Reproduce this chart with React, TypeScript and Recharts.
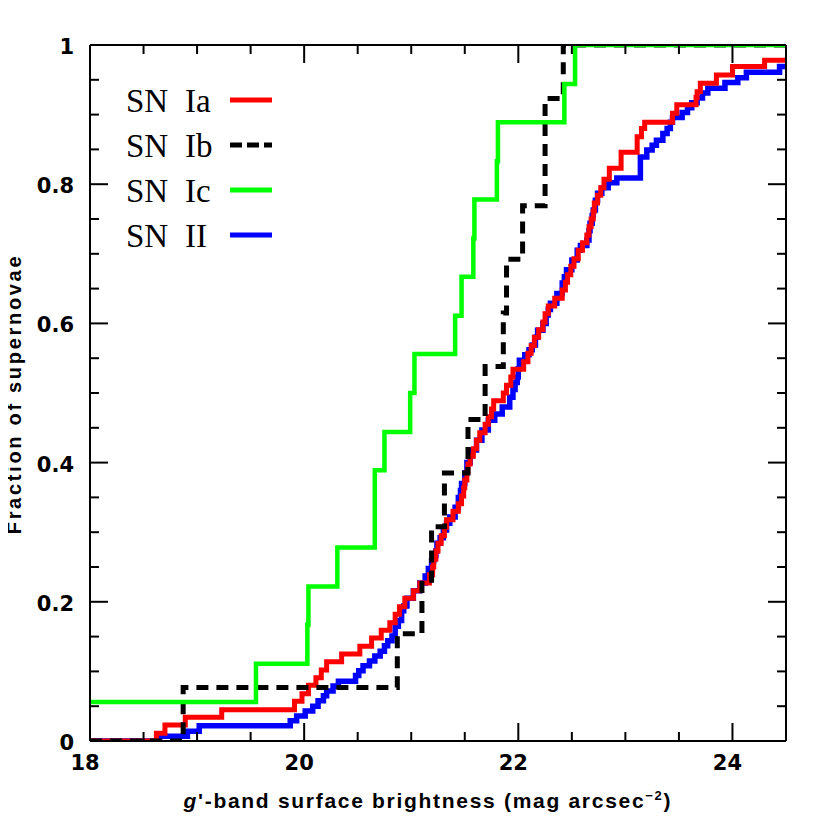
import React from 'react';
import { LineChart, Line, XAxis, YAxis, Legend } from 'recharts';

// cumulative fraction vs g' surface brightness as [mag, fraction]
const snIa = [
  [18.0, 0], [18.62, 0.011], [18.7, 0.023], [18.89, 0.034], [19.23, 0.045], [19.91, 0.057],
  [19.98, 0.068], [20.04, 0.08], [20.11, 0.091], [20.16, 0.102], [20.21, 0.114], [20.35, 0.125],
  [20.52, 0.136], [20.63, 0.148], [20.72, 0.159], [20.8, 0.17], [20.85, 0.182], [20.89, 0.193],
  [20.94, 0.205], [21.02, 0.216], [21.08, 0.227], [21.17, 0.239], [21.2, 0.25], [21.21, 0.261],
  [21.23, 0.273], [21.25, 0.284], [21.28, 0.295], [21.31, 0.307], [21.33, 0.318], [21.39, 0.33],
  [21.44, 0.341], [21.47, 0.352], [21.49, 0.364], [21.5, 0.375], [21.52, 0.386], [21.53, 0.398],
  [21.55, 0.409], [21.58, 0.42], [21.61, 0.432], [21.64, 0.443], [21.69, 0.455], [21.72, 0.466],
  [21.75, 0.477], [21.77, 0.489], [21.86, 0.5], [21.89, 0.511], [21.93, 0.523], [21.95, 0.534],
  [22.05, 0.545], [22.09, 0.557], [22.12, 0.568], [22.15, 0.58], [22.19, 0.591], [22.23, 0.602],
  [22.25, 0.614], [22.28, 0.625], [22.34, 0.636], [22.41, 0.648], [22.44, 0.659], [22.46, 0.67],
  [22.49, 0.682], [22.52, 0.693], [22.56, 0.705], [22.6, 0.716], [22.64, 0.727], [22.66, 0.739],
  [22.68, 0.75], [22.7, 0.761], [22.71, 0.773], [22.74, 0.784], [22.77, 0.795], [22.8, 0.807],
  [22.85, 0.823], [22.96, 0.846], [23.11, 0.868], [23.15, 0.88], [23.18, 0.889], [23.44, 0.902],
  [23.48, 0.914], [23.66, 0.925], [23.67, 0.933], [23.7, 0.945], [23.85, 0.957], [24.0, 0.969],
  [24.3, 0.978], [24.5, 0.978],
];

const snIb = [
  [18.0, 0], [18.87, 0.077], [20.87, 0.154], [21.1, 0.231], [21.19, 0.308], [21.31, 0.385],
  [21.53, 0.462], [21.69, 0.538], [21.86, 0.615], [21.89, 0.692], [22.04, 0.769], [22.25, 0.923],
  [22.42, 1], [24.5, 1],
];

const snIc = [
  [18.0, 0.056], [19.55, 0.111], [20.03, 0.167], [20.04, 0.222], [20.31, 0.278], [20.66, 0.389],
  [20.75, 0.444], [20.99, 0.5], [21.03, 0.556], [21.41, 0.611], [21.47, 0.667], [21.58, 0.722],
  [21.59, 0.778], [21.8, 0.833], [21.81, 0.889], [22.43, 0.944], [22.53, 1], [24.5, 1],
];

const snII = [
  [18.0, 0], [18.65, 0.007], [18.91, 0.014], [19.02, 0.022], [19.87, 0.029], [19.93, 0.036],
  [20.01, 0.043], [20.08, 0.05], [20.13, 0.058], [20.18, 0.065], [20.21, 0.072], [20.27, 0.079],
  [20.32, 0.086], [20.48, 0.094], [20.51, 0.101], [20.55, 0.108], [20.61, 0.115], [20.66, 0.122],
  [20.71, 0.129], [20.75, 0.137], [20.78, 0.144], [20.82, 0.151], [20.85, 0.165], [20.88, 0.173],
  [20.91, 0.187], [20.93, 0.194], [20.96, 0.205], [21.02, 0.216], [21.08, 0.227], [21.13, 0.237],
  [21.16, 0.248], [21.19, 0.259], [21.21, 0.266], [21.23, 0.273], [21.24, 0.284], [21.27, 0.292],
  [21.3, 0.303], [21.33, 0.313], [21.36, 0.322], [21.41, 0.336], [21.44, 0.35], [21.46, 0.36],
  [21.47, 0.37], [21.5, 0.385], [21.52, 0.4], [21.55, 0.41], [21.57, 0.418], [21.61, 0.432],
  [21.66, 0.447], [21.72, 0.461], [21.78, 0.47], [21.85, 0.48], [21.92, 0.494], [21.95, 0.505],
  [21.97, 0.515], [21.99, 0.523], [22.0, 0.535], [22.01, 0.547], [22.06, 0.555], [22.1, 0.562],
  [22.13, 0.569], [22.16, 0.58], [22.18, 0.59], [22.23, 0.6], [22.26, 0.612], [22.28, 0.62],
  [22.3, 0.629], [22.36, 0.643], [22.41, 0.658], [22.43, 0.667], [22.45, 0.677], [22.5, 0.691],
  [22.55, 0.705], [22.58, 0.712], [22.64, 0.72], [22.66, 0.733], [22.67, 0.744], [22.69, 0.755],
  [22.7, 0.763], [22.72, 0.777], [22.74, 0.787], [22.78, 0.795], [22.84, 0.802], [22.92, 0.809],
  [23.14, 0.839], [23.2, 0.849], [23.25, 0.856], [23.29, 0.863], [23.35, 0.873], [23.39, 0.88],
  [23.42, 0.889], [23.44, 0.896], [23.53, 0.903], [23.58, 0.91], [23.62, 0.917], [23.67, 0.924],
  [23.72, 0.931], [23.77, 0.938], [23.93, 0.946], [24.05, 0.953], [24.13, 0.961], [24.44, 0.969],
  [24.5, 0.969],
];

const xTicks = [18, 18.5, 19, 19.5, 20, 20.5, 21, 21.5, 22, 22.5, 23, 23.5, 24, 24.5];
const xLabels = [18, 20, 22, 24];
const yTicks = [
  0, 0.05, 0.1, 0.15, 0.2, 0.25, 0.3, 0.35, 0.4, 0.45, 0.5,
  0.55, 0.6, 0.65, 0.7, 0.75, 0.8, 0.85, 0.9, 0.95, 1,
];
const yLabels = [0, 0.2, 0.4, 0.6, 0.8, 1];

const legendNames = ['Ia', 'Ib', 'Ic', 'II'];
const legendColors = ['#ff0000', '#000000', '#00ff00', '#0000ff'];

const rows = (pts: number[][]) => pts.map(([x, y]) => ({ x, y }));

const tickFont = { fontFamily: 'DejaVu Sans', fontWeight: 700, fontSize: 21 };
const titleFont = { fontFamily: 'Liberation Sans', fontWeight: 700 };

const XTickBottom = ({ x, y, payload }: any) => {
  const major = xLabels.includes(payload.value);
  return (
    <g>
      <line x1={x} x2={x} y1={y} y2={y - (major ? 18 : 9)} stroke="#000" strokeWidth={2} />
      {major && (
        <text x={x - 5} y={y + 29} textAnchor="middle" fill="#000" style={tickFont}>
          {payload.value}
        </text>
      )}
    </g>
  );
};

const XTickTop = ({ x, y, payload }: any) => {
  const major = xLabels.includes(payload.value);
  return <line x1={x} x2={x} y1={y} y2={y + (major ? 18 : 9)} stroke="#000" strokeWidth={2} />;
};

const YTickLeft = ({ x, y, payload }: any) => {
  const major = yLabels.includes(payload.value);
  return (
    <g>
      <line x1={x} x2={x + (major ? 18 : 9)} y1={y} y2={y} stroke="#000" strokeWidth={2} />
      {major && (
        <text x={x - 16} y={y + 9} textAnchor="end" fill="#000" style={tickFont}>
          {payload.value}
        </text>
      )}
    </g>
  );
};

const YTickRight = ({ x, y, payload }: any) => {
  const major = yLabels.includes(payload.value);
  return <line x1={x} x2={x - (major ? 18 : 9)} y1={y} y2={y} stroke="#000" strokeWidth={2} />;
};

const XTitle = () => (
  <text x={427} y={808} textAnchor="middle" fill="#000" fontSize={21} style={titleFont}
    textLength={487}>
    <tspan fontStyle="italic">g</tspan>'-band surface brightness (mag arcsec
    <tspan dy={-8} fontSize={13}>−2</tspan>
    <tspan dy={8}>)</tspan>
  </text>
);

const YTitle = () => (
  <text x={0} y={0} transform="translate(21,394) rotate(-90)" textAnchor="middle" fill="#000"
    fontSize={20} style={{ ...titleFont, letterSpacing: 2.7 }}>
    Fraction of supernovae
  </text>
);

const LegendBox = () => (
  <svg width={300} height={270} style={{ position: 'absolute', left: 0, top: 0 }}>
    {legendNames.map((name, i) => {
      const base = 112 + i * 45;
      return (
        <g key={name}>
          <text x={126} y={base} fontFamily="Liberation Serif" fontSize={33} fill="#000">SN</text>
          <text x={185} y={base} fontFamily="Liberation Serif" fontSize={33} fill="#000">{name}</text>
          <line x1={230} x2={272} y1={base - 12} y2={base - 12} stroke={legendColors[i]}
            strokeWidth={5} strokeDasharray={name === 'Ib' ? '12 5' : undefined} />
        </g>
      );
    })}
  </svg>
);

export default function App() {
  return (
    <div style={{ margin: -8 }}>
      <LineChart width={830} height={830} margin={{ top: 44, left: 89, right: 43, bottom: 88 }}>
        <XAxis xAxisId="b" dataKey="x" type="number" domain={[18, 24.5]} ticks={xTicks} interval={0}
          allowDataOverflow height={1} tickSize={0} tickMargin={0} tickLine={false}
          axisLine={{ stroke: '#000', strokeWidth: 2 }} tick={XTickBottom} label={<XTitle />} />
        <XAxis xAxisId="t" orientation="top" dataKey="x" type="number" domain={[18, 24.5]}
          ticks={xTicks} interval={0} allowDataOverflow height={1} tickSize={0} tickMargin={0}
          tickLine={false} axisLine={{ stroke: '#000', strokeWidth: 2 }} tick={XTickTop} />
        <YAxis yAxisId="l" type="number" domain={[0, 1]} ticks={yTicks} interval={0} allowDataOverflow
          width={1} tickSize={0} tickMargin={0} tickLine={false}
          axisLine={{ stroke: '#000', strokeWidth: 2 }} tick={YTickLeft} label={<YTitle />} />
        <YAxis yAxisId="r" orientation="right" type="number" domain={[0, 1]} ticks={yTicks}
          interval={0} allowDataOverflow width={1} tickSize={0} tickMargin={0} tickLine={false}
          axisLine={{ stroke: '#000', strokeWidth: 2 }} tick={YTickRight} />
        <Legend layout="vertical" align="center" verticalAlign="middle" content={<LegendBox />}
          wrapperStyle={{ left: 0, top: 0, width: 300, height: 270 }} />
        <Line xAxisId="b" yAxisId="l" data={rows(snII)} dataKey="y" type="stepAfter" stroke="#0000ff"
          strokeWidth={5.5} dot={false} activeDot={false} isAnimationActive={false} />
        <Line xAxisId="b" yAxisId="l" data={rows(snIa)} dataKey="y" type="stepAfter" stroke="#ff0000"
          strokeWidth={5} dot={false} activeDot={false} isAnimationActive={false} />
        <Line xAxisId="b" yAxisId="l" data={rows(snIb)} dataKey="y" type="stepAfter" stroke="#000000"
          strokeWidth={5} strokeDasharray="12 8" dot={false} activeDot={false}
          isAnimationActive={false} />
        <Line xAxisId="b" yAxisId="l" data={rows(snIc)} dataKey="y" type="stepAfter" stroke="#00ff00"
          strokeWidth={4.5} dot={false} activeDot={false} isAnimationActive={false} />
      </LineChart>
    </div>
  );
}
